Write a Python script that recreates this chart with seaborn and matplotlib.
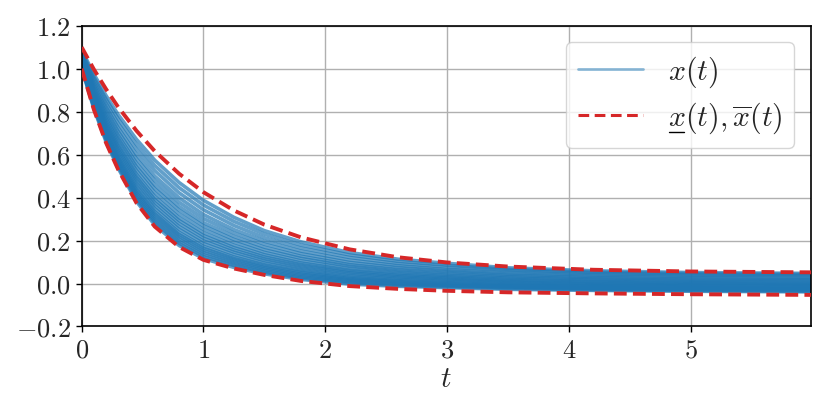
import matplotlib
matplotlib.use("Agg")
import matplotlib.pyplot as plt
import pandas as pd
import seaborn as sns
from matplotlib.ticker import FuncFormatter

# time samples shared by every curve
t = [0.0, 0.1, 0.2, 0.3, 0.45, 0.6, 0.8, 1.0, 1.25, 1.5, 1.8, 2.2, 2.6, 3.0, 3.5, 4.2, 5.0, 6.0]

# bounds
upper = [1.100, 0.997, 0.905, 0.821, 0.711, 0.616, 0.511, 0.425, 0.340, 0.274, 0.215, 0.159, 0.122, 0.098, 0.079, 0.064, 0.056, 0.052]
lower = [1.00, 0.81, 0.655, 0.53, 0.375, 0.265, 0.17, 0.11, 0.07, 0.04, 0.012, -0.012, -0.025, -0.034, -0.041, -0.046, -0.050, -0.053]

# sampled trajectories x(t)
traj_01 = [1.002, 0.814, 0.660, 0.536, 0.382, 0.272, 0.177, 0.116, 0.075, 0.045, 0.019, -0.003, -0.013, -0.019, -0.027, -0.032, -0.036, -0.039]
traj_02 = [1.005, 0.819, 0.668, 0.545, 0.392, 0.283, 0.187, 0.126, 0.084, 0.052, 0.025, 0.003, -0.009, -0.015, -0.023, -0.029, -0.033, -0.036]
traj_03 = [1.008, 0.825, 0.675, 0.553, 0.402, 0.293, 0.197, 0.135, 0.092, 0.059, 0.031, 0.008, -0.004, -0.011, -0.019, -0.025, -0.030, -0.033]
traj_04 = [1.011, 0.831, 0.683, 0.562, 0.412, 0.304, 0.208, 0.145, 0.100, 0.066, 0.037, 0.013, 0.000, -0.008, -0.016, -0.022, -0.026, -0.029]
traj_05 = [1.014, 0.836, 0.690, 0.571, 0.422, 0.314, 0.218, 0.154, 0.108, 0.073, 0.043, 0.018, 0.005, -0.004, -0.012, -0.019, -0.023, -0.026]
traj_06 = [1.017, 0.842, 0.698, 0.580, 0.432, 0.325, 0.228, 0.164, 0.116, 0.080, 0.050, 0.023, 0.009, 0.000, -0.009, -0.015, -0.020, -0.023]
traj_07 = [1.020, 0.847, 0.705, 0.588, 0.442, 0.335, 0.238, 0.173, 0.124, 0.087, 0.056, 0.028, 0.013, 0.004, -0.005, -0.012, -0.017, -0.020]
traj_08 = [1.024, 0.855, 0.715, 0.600, 0.456, 0.349, 0.252, 0.186, 0.135, 0.096, 0.064, 0.035, 0.019, 0.010, 0.000, -0.008, -0.013, -0.016]
traj_09 = [1.028, 0.862, 0.725, 0.611, 0.469, 0.363, 0.265, 0.198, 0.146, 0.106, 0.072, 0.042, 0.025, 0.015, 0.005, -0.003, -0.008, -0.012]
traj_10 = [1.032, 0.870, 0.735, 0.623, 0.483, 0.377, 0.279, 0.211, 0.156, 0.115, 0.080, 0.049, 0.031, 0.020, 0.009, 0.001, -0.004, -0.007]
traj_11 = [1.036, 0.877, 0.745, 0.635, 0.496, 0.391, 0.293, 0.223, 0.167, 0.124, 0.088, 0.056, 0.037, 0.026, 0.014, 0.006, 0.000, -0.003]
traj_12 = [1.040, 0.885, 0.755, 0.646, 0.509, 0.405, 0.306, 0.236, 0.178, 0.134, 0.096, 0.062, 0.043, 0.031, 0.019, 0.010, 0.004, 0.001]
traj_13 = [1.045, 0.894, 0.768, 0.661, 0.526, 0.423, 0.323, 0.252, 0.192, 0.145, 0.106, 0.071, 0.050, 0.037, 0.025, 0.016, 0.010, 0.006]
traj_14 = [1.050, 0.904, 0.780, 0.676, 0.543, 0.441, 0.341, 0.268, 0.205, 0.157, 0.117, 0.080, 0.058, 0.044, 0.031, 0.021, 0.015, 0.012]
traj_15 = [1.055, 0.913, 0.793, 0.690, 0.560, 0.458, 0.358, 0.283, 0.219, 0.169, 0.127, 0.088, 0.065, 0.051, 0.037, 0.027, 0.020, 0.017]
traj_16 = [1.061, 0.924, 0.808, 0.708, 0.580, 0.479, 0.378, 0.302, 0.235, 0.183, 0.139, 0.098, 0.074, 0.059, 0.044, 0.033, 0.027, 0.023]
traj_17 = [1.067, 0.935, 0.823, 0.725, 0.600, 0.500, 0.399, 0.321, 0.251, 0.197, 0.151, 0.109, 0.083, 0.066, 0.051, 0.040, 0.033, 0.029]
traj_18 = [1.074, 0.948, 0.840, 0.745, 0.624, 0.525, 0.422, 0.343, 0.270, 0.213, 0.165, 0.121, 0.093, 0.076, 0.060, 0.047, 0.040, 0.037]
traj_19 = [1.081, 0.961, 0.858, 0.766, 0.647, 0.549, 0.446, 0.365, 0.289, 0.230, 0.179, 0.133, 0.103, 0.085, 0.066, 0.053, 0.046, 0.042]
traj_20 = [1.088, 0.975, 0.875, 0.786, 0.671, 0.574, 0.470, 0.387, 0.308, 0.246, 0.194, 0.144, 0.113, 0.094, 0.073, 0.059, 0.051, 0.047]

trajectories = [traj_01, traj_02, traj_03, traj_04, traj_05, traj_06, traj_07, traj_08, traj_09, traj_10,
                traj_11, traj_12, traj_13, traj_14, traj_15, traj_16, traj_17, traj_18, traj_19, traj_20]

x_ticks = [0, 1, 2, 3, 4, 5]
y_ticks = [-0.2, 0.0, 0.2, 0.4, 0.6, 0.8, 1.0, 1.2]

sns.set_theme(style="ticks")
plt.rcParams["mathtext.fontset"] = "cm"
plt.rcParams["font.family"] = ["DejaVu Serif"]

df = pd.DataFrame(
    [(i, ti, v) for i, tr in enumerate(trajectories) for ti, v in zip(t, tr)],
    columns=["run", "t", "x"],
)
bounds = pd.DataFrame({"t": t + t, "x": upper + lower, "bound": ["upper"] * len(t) + ["lower"] * len(t)})

dash = (0, (3.3, 1.6))

fig = plt.figure(figsize=(8.3, 4.15), dpi=100)
ax = fig.add_axes([0.0984, 0.2133, 0.8784, 0.7247])

sns.lineplot(data=df, x="t", y="x", units="run", estimator=None, color="#1f77b4",
             alpha=0.7, ax=ax, legend=False)
n_traj = len(ax.lines)
sns.lineplot(data=bounds, x="t", y="x", units="bound", estimator=None, color="#d62728",
             ax=ax, legend=False)
# seaborn resets widths/styles, so set them on the drawn lines
for i, line in enumerate(ax.lines):
    if i < n_traj:
        line.set_linewidth(2.6)
    else:
        line.set_linewidth(2.8)
        line.set_linestyle(dash)
        line.set_zorder(3)

ax.set_xlim(0, 5.985)
ax.set_ylim(-0.2, 1.2)
ax.set_xticks(x_ticks)
ax.set_yticks(y_ticks)
ax.xaxis.set_major_formatter(FuncFormatter(lambda v, p: f"${v:.0f}$"))
ax.yaxis.set_major_formatter(FuncFormatter(lambda v, p: f"${v:.1f}$"))
ax.tick_params(labelsize=19, length=4, width=1, color="black", pad=4)
ax.grid(True, color="#b0b0b0", lw=1)
for sp in ax.spines.values():
    sp.set_color("black")
    sp.set_linewidth(1.2)
ax.set_xlabel("$t$", fontsize=21, labelpad=2)
ax.set_ylabel("")

handles = [
    plt.Line2D([], [], color="#1f77b4", alpha=0.5, lw=2),
    plt.Line2D([], [], color="#d62728", lw=2.2, linestyle=(0, (3.5, 1.8))),
]
leg = ax.legend(handles, [r"$x(t)$", r"$x(t), \overline{x}(t)$"], loc="upper right",
                fontsize=21.5, frameon=True, fancybox=True, framealpha=0.8, edgecolor="#cccccc",
                handlelength=2.18, handletextpad=0.84, borderpad=0.4, labelspacing=0.37,
                borderaxespad=0.55)

# mathtext has no \underline, so draw the bar under the first x by hand
fig.canvas.draw()
renderer = fig.canvas.get_renderer()
bb = leg.get_texts()[1].get_window_extent(renderer)
tmp = fig.text(0, 0, "$x$", fontsize=21.5)
wx = tmp.get_window_extent(renderer).width
tmp.remove()
inv = fig.transFigure.inverted()
(x0, y0), (x1, _) = inv.transform([(bb.x0 + 1, bb.y0 + 4), (bb.x0 + wx - 1, bb.y0 + 4)])
fig.add_artist(plt.Line2D([x0, x1], [y0, y0], color="black", lw=1.0, transform=fig.transFigure))

fig.savefig("out.png", dpi=100)
